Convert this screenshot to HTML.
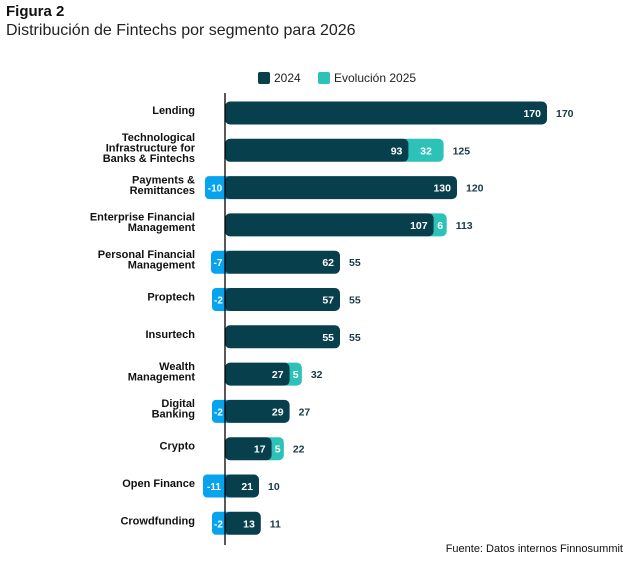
<!DOCTYPE html>
<html><head><meta charset="utf-8">
<style>
body{margin:0;background:#fff;font-family:"Liberation Sans",sans-serif;}
#wrap{position:relative;width:632px;height:565px;overflow:hidden}
.t1{position:absolute;left:6px;top:3px;font-weight:bold;font-size:15px;color:#111}
.t2{position:absolute;left:6px;top:22px;font-size:16px;color:#222}
</style></head><body>
<div id="wrap">
<div class="t1">Figura 2</div>
<div class="t2">Distribución de Fintechs por segmento para 2026</div>
<svg id="svg" width="632" height="565" style="position:absolute;left:0;top:0"></svg>
</div>
<script>
const categories=[["Lending"],["Technological","Infrastructure for","Banks & Fintechs"],["Payments &","Remittances"],["Enterprise Financial","Management"],["Personal Financial","Management"],["Proptech"],["Insurtech"],["Wealth","Management"],["Digital","Banking"],["Crypto"],["Open Finance"],["Crowdfunding"]];
const base2024=[170,93,130,107,62,57,55,27,29,17,21,13];
const change2025=[0,32,-10,6,-7,-2,0,5,-2,5,-11,-2];
const total2025=[170,125,120,113,55,55,55,32,27,22,10,11];
const NS="http://www.w3.org/2000/svg";
const svg=document.getElementById('svg');
const X0=225;
function xs(v){return X0+16+1.8*v;}
function yc(i){return 113+i*37.3;}
function mk(t,a,txt){const e=document.createElementNS(NS,t);for(const k in a)e.setAttribute(k,a[k]);if(txt!==undefined)e.textContent=txt;svg.appendChild(e);return e;}
const F='"Liberation Sans",sans-serif';
let e=mk('rect',{x:258,y:72,width:12,height:12,rx:2,fill:'#073f4c'});

e=mk('text',{x:274,y:82,'font-size':12,fill:'#222','font-family':F},'2024');

e=mk('rect',{x:318,y:72,width:12,height:12,rx:2,fill:'#2cc2b8'});

e=mk('text',{x:334,y:82,'font-size':12,fill:'#222','font-family':F},'Evolución 2025');

categories.forEach((c,i)=>{
  const y=yc(i),h=23,top=y-h/2;
  const v=base2024[i],ch=change2025[i];
  const darkEnd=ch<0?xs(total2025[i]):xs(v);
  const darkLen=darkEnd-X0;
  let end=darkEnd;
  if(ch<0){
    const w=Math.max(13,2*Math.abs(ch));
    e=mk('rect',{x:X0-w,y:top,width:w+8,height:h,rx:4,fill:'#08a3ee'});
    
    e=mk('text',{x:X0-w/2,y:y+4,'font-size':10,'font-weight':'bold',fill:'#fff','text-anchor':'middle','font-family':F},String(ch));
    
  }
  if(ch>0){
    end=darkEnd+8+0.85*ch;
    e=mk('rect',{x:darkEnd-8,y:top,width:end-darkEnd+8,height:h,rx:5,fill:'#2cc2b8'});
    
  }
  e=mk('rect',{x:X0,y:top,width:darkLen,height:h,rx:5,fill:'#073f4c'});
  
  e=mk('text',{x:darkEnd-6,y:y+4,'font-size':10.5,'font-weight':'bold',fill:'#fff','text-anchor':'end','font-family':F},String(v));
  
  if(ch>0){
    e=mk('text',{x:(darkEnd+end)/2,y:y+4,'font-size':10.5,'font-weight':'bold',fill:'#fff','text-anchor':'middle','font-family':F},String(ch));
    
  }
  e=mk('text',{x:end+9,y:y+4,'font-size':10.5,'font-weight':'bold',fill:'#173a44','font-family':F},String(total2025[i]));
  
  const n=c.length,lh=10.5;
  c.forEach((ln,j)=>{
    e=mk('text',{x:195,y:y+1-(n-1)*lh/2+j*lh,'font-size':11,'font-weight':'bold',fill:'#111','text-anchor':'end','font-family':F},ln);
    
  });
});
e=mk('line',{x1:X0,y1:93,x2:X0,y2:545,stroke:'#000','stroke-width':1.3});

e=mk('text',{x:623,y:552,'font-size':11,fill:'#111','text-anchor':'end','font-family':F},'Fuente: Datos internos Finnosummit');

</script>
</body></html>
